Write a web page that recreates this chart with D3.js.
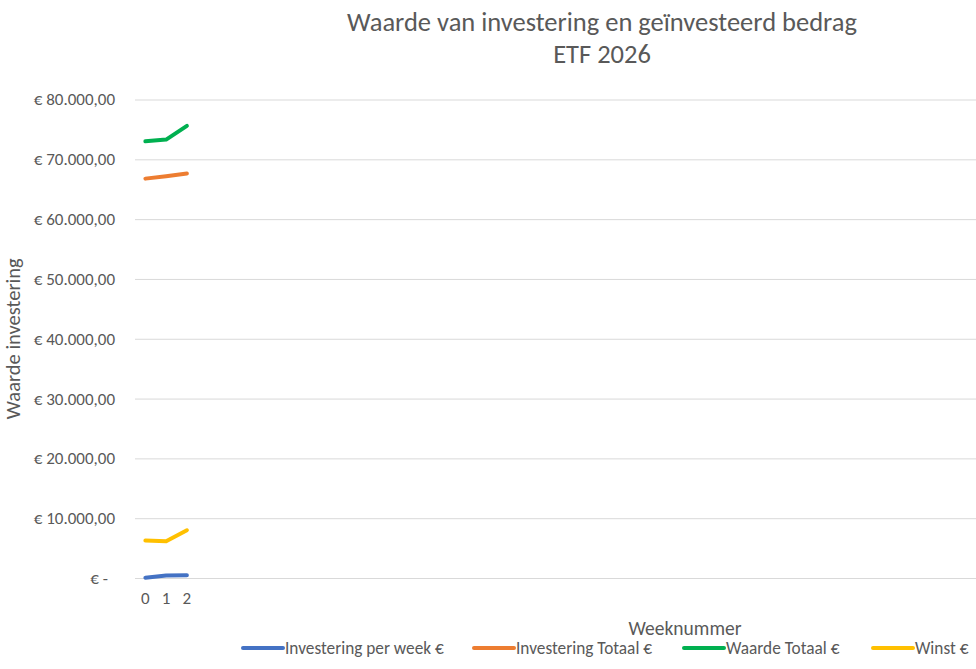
<!DOCTYPE html>
<html>
<head>
<meta charset="utf-8">
<script src="https://cdn.jsdelivr.net/npm/d3@7"></script>
<style>
  body { margin: 0; background: #fff; overflow: hidden; }
  svg { font-family: Calibri, Carlito, Lato, "Open Sans", sans-serif; fill: #595959; }
</style>
</head>
<body>
<div id="chart"></div>
<script>
// Weeks 0..52, only the first three have data
const weeks = d3.range(0, 53);
const weekLabels = weeks.map(w => w <= 2 ? String(w) : "");

const investeringPerWeek = [50, 400, 440];
const investeringTotaal = [66770, 67170, 67610];
const waardeTotaal = [73020, 73300, 75590];
const winst = [6250, 6130, 7980];

const seriesNames = ["Investering per week €", "Investering Totaal €", "Waarde Totaal €", "Winst €"];
const seriesColors = ["#4472C4", "#ED7D31", "#00B050", "#FFC000"];
const yTicks = [0, 10000, 20000, 30000, 40000, 50000, 60000, 70000, 80000];

const width = 976, height = 669;
const plot = { LEFT: 135, RIGHT: 1235, TOP: 99.5, BOTTOM: 578 };

const svg = d3.select("#chart").append("svg")
  .attr("width", width)
  .attr("height", height);

const nl = d3.formatLocale({ decimal: ",", thousands: ".", grouping: [3], currency: ["€ ", ""] });
const euro = nl.format("$,.2f");

// Scales
const x = d3.scaleBand()
  .domain(weeks)
  .range([plot.LEFT, plot.RIGHT]);
const y = d3.scaleLinear()
  .domain([0, 80000])
  .range([plot.BOTTOM, plot.TOP]);

// Gridlines + y labels
const yAxis = d3.axisLeft(y)
  .tickValues(yTicks)
  .tickSize(-(plot.RIGHT - plot.LEFT))
  .tickPadding(20)
  .tickFormat(d => d === 0 ? "€ -" : euro(d));
const yg = svg.append("g")
  .attr("transform", `translate(${plot.LEFT}, 0)`)
  .call(yAxis)
  .attr("font-family", null)
  .attr("font-size", null);
yg.select(".domain").remove();
yg.selectAll(".tick line").attr("stroke", "#D9D9D9").attr("stroke-width", 1);
yg.selectAll(".tick text")
  .attr("fill", "#595959")
  .attr("font-size", "17px")
  .attr("dx", d => d === 0 ? -7 : 0);

// X axis
const xAxis = d3.axisBottom(x)
  .tickSize(0)
  .tickPadding(14)
  .tickFormat((d, i) => weekLabels[i]);
const xg = svg.append("g")
  .attr("transform", `translate(0, ${plot.BOTTOM})`)
  .call(xAxis)
  .attr("font-family", null)
  .attr("font-size", null);
xg.select(".domain").attr("stroke", "#D9D9D9");
xg.selectAll(".tick text")
  .attr("fill", "#595959")
  .attr("font-size", "17px");

// Lines
const seriesData = [investeringPerWeek, investeringTotaal, waardeTotaal, winst];
const line = d3.line()
  .x((d, i) => x(weeks[i]) + x.bandwidth() / 2)
  .y(d => y(d));

seriesData.forEach((values, i) => {
  svg.append("path")
    .datum(values)
    .attr("fill", "none")
    .attr("stroke", seriesColors[i])
    .attr("stroke-width", 4)
    .attr("stroke-linecap", "round")
    .attr("stroke-linejoin", "round")
    .attr("d", line);
});

// Title
const title = svg.append("text")
  .attr("text-anchor", "middle")
  .attr("font-size", "26.5px")
  .attr("fill", "#595959");
title.append("tspan").attr("x", 602).attr("y", 31).text("Waarde van investering en geïnvesteerd bedrag");
title.append("tspan").attr("x", 602).attr("y", 63).text("ETF 2026");

// Axis titles
svg.append("text")
  .attr("transform", `translate(20, ${(plot.TOP + plot.BOTTOM) / 2}) rotate(-90)`)
  .attr("text-anchor", "middle")
  .attr("font-size", "20.5px")
  .attr("fill", "#595959")
  .text("Waarde investering");

svg.append("text")
  .attr("x", (plot.LEFT + plot.RIGHT) / 2)
  .attr("y", 635)
  .attr("text-anchor", "middle")
  .attr("font-size", "19.5px")
  .attr("fill", "#595959")
  .text("Weeknummer");

// Legend
const legendX = [243, 474, 684, 873];
seriesNames.forEach((name, i) => {
  const row = svg.append("g")
    .attr("transform", `translate(${legendX[i]}, 648)`);
  row.append("line")
    .attr("x1", 0).attr("x2", 40)
    .attr("stroke", seriesColors[i])
    .attr("stroke-width", 4)
    .attr("stroke-linecap", "round");
  row.append("text")
    .attr("x", 42)
    .attr("y", 6)
    .attr("font-size", "17.3px")
    .attr("fill", "#595959")
    .text(name);
});
</script>
</body>
</html>
